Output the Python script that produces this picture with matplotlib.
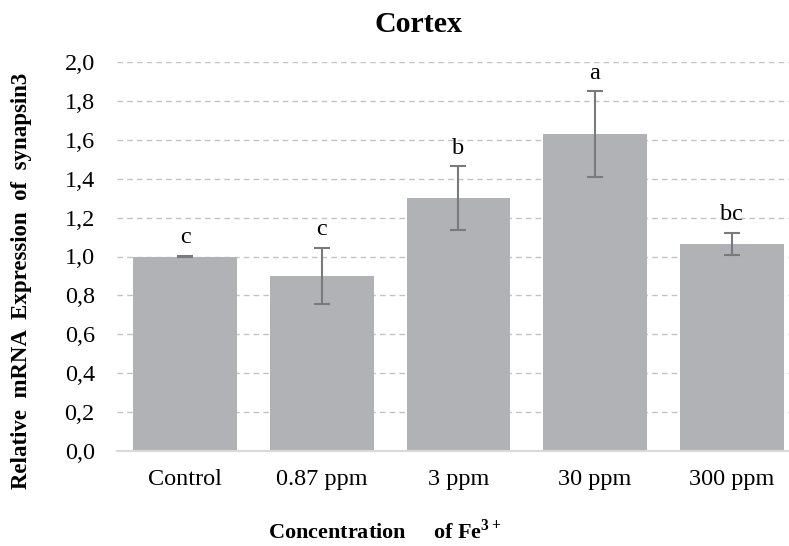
import matplotlib
matplotlib.use("Agg")
import matplotlib.pyplot as plt
from matplotlib.ticker import FuncFormatter

categories = ["Control", "0.87 ppm", "3 ppm", "30 ppm", "300 ppm"]
values = [1.00, 0.90, 1.30, 1.63, 1.065]
errors = [0.005, 0.145, 0.165, 0.22, 0.057]
letters = ["c", "c", "b", "a", "bc"]
yticks = [0.0, 0.2, 0.4, 0.6, 0.8, 1.0, 1.2, 1.4, 1.6, 1.8, 2.0]

plt.rcParams['font.family'] = ['Liberation Serif', 'DejaVu Serif']
plt.rcParams['mathtext.fontset'] = 'custom'
plt.rcParams['mathtext.rm'] = 'Liberation Serif'
plt.rcParams['mathtext.bf'] = 'Liberation Serif:bold'

fig = plt.figure(figsize=(7.89, 5.46), dpi=100)
ax = fig.add_axes([117/789, 1 - 451/546, 1 - 117/789, (451 - 62)/546])

x = list(range(len(categories)))
ax.bar(x, values, width=0.76, color="#b1b2b6", zorder=2)
ax.errorbar(x, values, yerr=errors, fmt="none", ecolor="#7a7a7a",
            elinewidth=1.5, capsize=6, capthick=1.5, zorder=3)
for xi, v, e, t in zip(x, values, errors, letters):
    ax.annotate(t, (xi, v + e), xytext=(0, 9), textcoords="offset points",
                ha="center", va="baseline", fontsize=17.5)

ax.set_ylim(0, 2.0)
ax.set_xlim(-0.5, 4.42)
ax.set_yticks(yticks)
ax.yaxis.set_major_formatter(FuncFormatter(lambda v, p: f"{v:.1f}".replace(".", ",")))
ax.set_xticks(x)
ax.set_xticklabels(categories)
ax.tick_params(axis="both", length=0, labelsize=17.5)
ax.tick_params(axis="x", pad=13)
ax.tick_params(axis="y", pad=16)
ax.grid(axis="y", linestyle=(0, (4, 3)), color="#c3c3c3", linewidth=1.0, zorder=0)
ax.grid(axis="x", visible=False)
for s in ["top", "right", "left"]:
    ax.spines[s].set_visible(False)
ax.spines["bottom"].set_color("#d9d9d9")
ax.spines["bottom"].set_linewidth(1.5)
ax.spines["bottom"].set_zorder(4)

fig.text(418/789, 1 - 24/546, "Cortex", fontsize=21.5, fontweight="bold",
         ha="center", va="center")
fig.text(22/789, 1 - 281/546, "Relative  mRNA  Expression  of  synapsin3",
         fontsize=16.5, fontweight="bold", rotation=90, ha="center", va="center")
fig.text(268/789, 1 - 532/546, "Concentration     of Fe$^{\\mathbf{3+}}$",
         fontsize=16, fontweight="bold", ha="left", va="center")

fig.savefig("out.png", dpi=100)
